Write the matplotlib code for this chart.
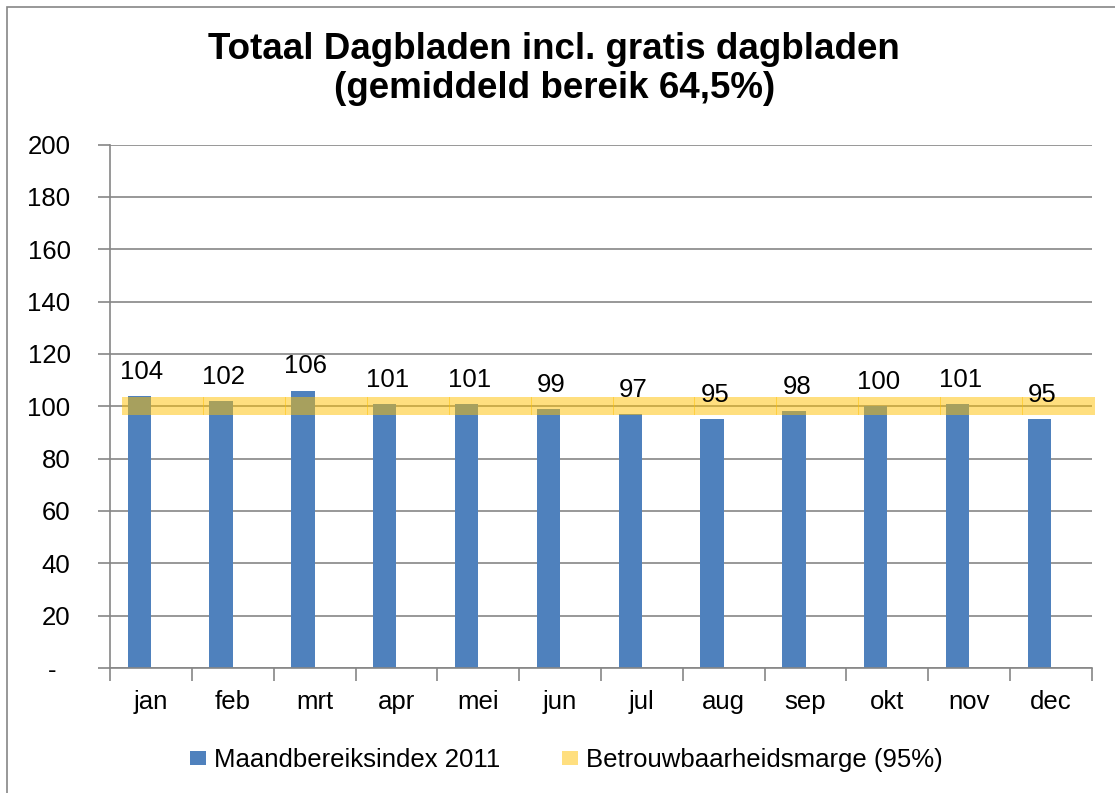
import numpy as np
import matplotlib
matplotlib.use('Agg')
import matplotlib.pyplot as plt
from matplotlib.patches import Rectangle, Patch
from matplotlib.ticker import FixedLocator, FuncFormatter

# chart data
months = ['jan', 'feb', 'mrt', 'apr', 'mei', 'jun', 'jul', 'aug', 'sep', 'okt', 'nov', 'dec']
index_2011 = [104, 102, 106, 101, 101, 99, 97, 95, 98, 100, 101, 95]
margin_low = 96.5
margin_high = 103.5
y_ticks = [0, 20, 40, 60, 80, 100, 120, 140, 160, 180, 200]

title = 'Totaal Dagbladen incl. gratis dagbladen\n(gemiddeld bereik 64,5%)'
label_bars = 'Maandbereiksindex 2011'
label_band = 'Betrouwbaarheidsmarge (95%)'

BLUE = '#4F81BD'
GOLD = '#FFC000'
GREY = '#868686'

plt.rcParams['font.family'] = ['Liberation Sans', 'DejaVu Sans']
FS = 18.5

fig = plt.figure(figsize=(11.15, 7.93), dpi=100)
W, H = 1115, 793
ax = fig.add_axes([110 / W, 1 - 668 / H, 982 / W, 523.5 / H])

x = np.arange(len(months))
bar_w = 0.285
bars = ax.bar(x - bar_w / 2, index_2011, width=bar_w, color=BLUE, zorder=2)

# confidence band, drawn as one segment per month (slight overlap like the original)
for i in range(len(months)):
    x0 = i - 0.358
    w = 1.012 if i < len(months) - 1 else 0.895
    ax.add_patch(Rectangle((x0, margin_low), w, margin_high - margin_low,
                           facecolor=GOLD, alpha=0.5, edgecolor='none',
                           zorder=3, clip_on=False))

for xi, v in zip(x, index_2011):
    ax.annotate(str(v), xy=(xi - bar_w / 2, v), xytext=(2, 12.3),
                textcoords='offset points', ha='center', va='baseline',
                fontsize=FS, zorder=4)

ax.set_xlim(-0.5, len(months) - 0.5)
ax.set_ylim(0, 200)

ax.yaxis.set_major_locator(FixedLocator(y_ticks))
ax.yaxis.set_major_formatter(FuncFormatter(lambda v, p: '-  ' if v == 0 else f'{int(v)}'))
ax.tick_params(axis='y', length=9, width=1.2, color=GREY, pad=19.4, labelsize=FS)

ax.set_xticks(x)
ax.set_xticklabels(months)
ax.set_xticks(np.arange(-0.5, len(months)), minor=True)
ax.tick_params(axis='x', which='major', length=0, pad=15.5, labelsize=FS)
ax.tick_params(axis='x', which='minor', length=9, width=1.2, color=GREY)

ax.grid(axis='y', color=GREY, linewidth=1.2, zorder=0)
ax.set_axisbelow(True)
for side in ['top', 'right']:
    ax.spines[side].set_visible(False)
for side in ['left', 'bottom']:
    ax.spines[side].set_color(GREY)
    ax.spines[side].set_linewidth(1.2)

fig.text(0.497, 1 - 59 / H, title.split('\n')[0], ha='center', va='baseline',
         fontsize=26.5, fontweight='bold')
fig.text(0.497, 1 - 98 / H, title.split('\n')[1], ha='center', va='baseline',
         fontsize=26.5, fontweight='bold')

handles = [Patch(facecolor=BLUE, edgecolor='none'),
           Patch(facecolor=GOLD, alpha=0.5, edgecolor='none')]
fig.legend(handles, [label_bars, label_band], ncol=2, loc='center',
           bbox_to_anchor=(0.508, 1 - 760 / H), frameon=False, fontsize=FS,
           handlelength=0.62, handleheight=0.5, handletextpad=0.3,
           columnspacing=2.4, borderaxespad=0)

# outer chart border (only left and top edges fall inside the image)
fig.add_artist(Rectangle((7 / W, -0.05), 1.2, 1 - 7 / H + 0.05,
                         transform=fig.transFigure, fill=False,
                         edgecolor=GREY, linewidth=1.2))

fig.savefig('out.png', dpi=100)
